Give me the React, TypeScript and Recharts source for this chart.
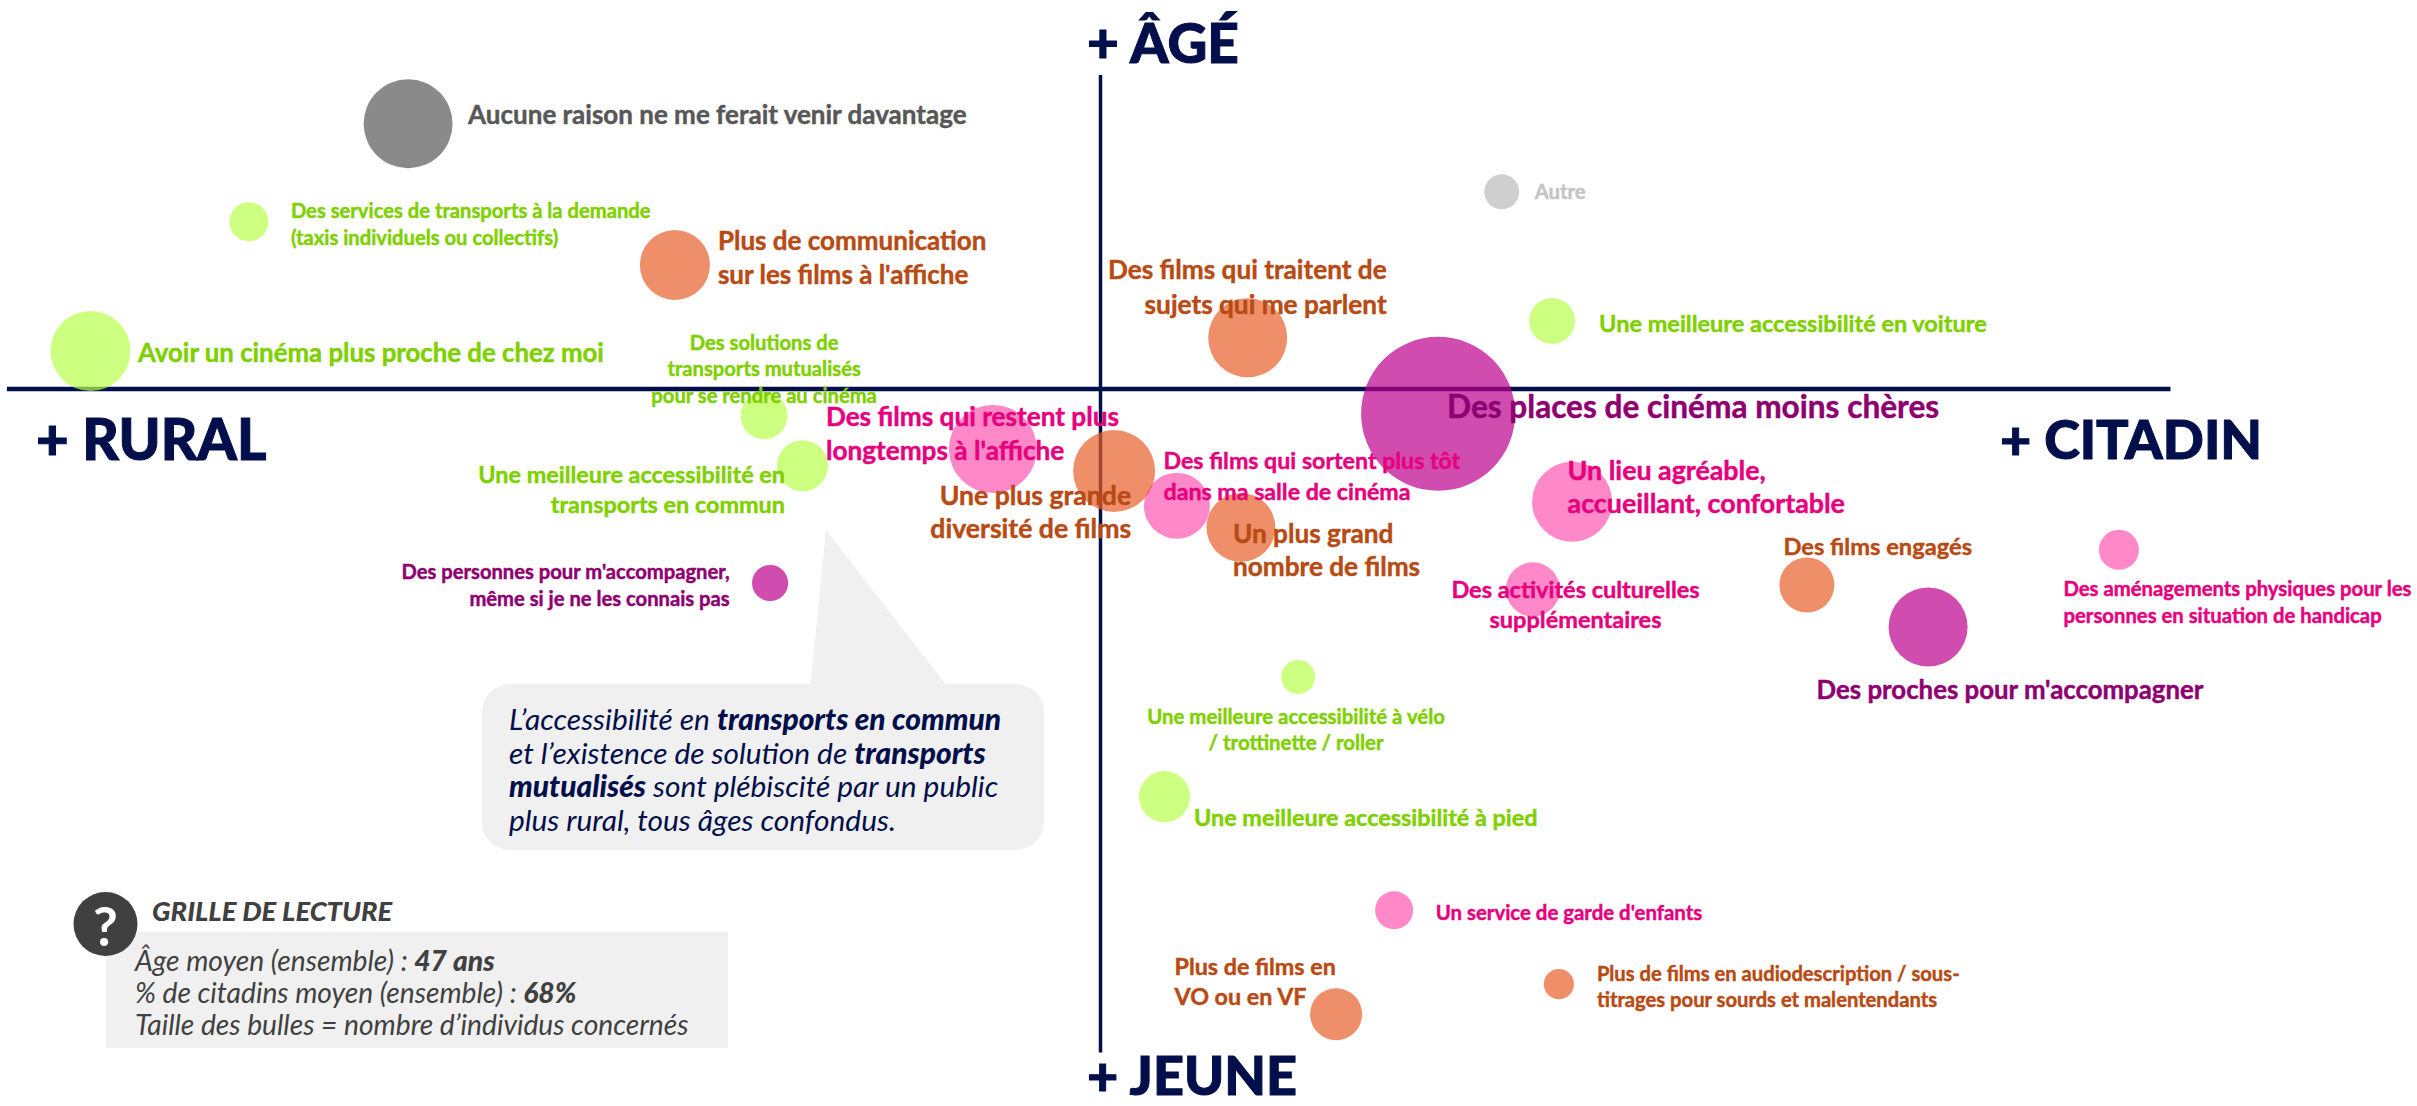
import React from "react";
import { ScatterChart, Scatter, XAxis, YAxis, ZAxis, ReferenceLine } from "recharts";

// x = % de citadins, y = âge moyen, z = part d'individus concernés (taille des bulles)
const AVG_CITADINS = 68;
const AVG_AGE = 47;

const greenItems = [
  { id: "services", x: 46.71, y: 51.18, z: 3.85, lines: ["Des services de transports à la demande", "(taxis individuels ou collectifs)"] },
  { id: "avoir", x: 42.75, y: 47.95, z: 16.2, lines: ["Avoir un cinéma plus proche de chez moi"] },
  { id: "solutions", x: 59.59, y: 46.33, z: 5.6, lines: ["Des solutions de", "transports mutualisés", "pour se rendre au cinéma"] },
  { id: "commun", x: 60.55, y: 45.08, z: 6.6, lines: ["Une meilleure accessibilité en", "transports en commun"] },
  { id: "voiture", x: 79.29, y: 48.7, z: 5.35, lines: ["Une meilleure accessibilité en voiture"] },
  { id: "velo", x: 72.94, y: 39.8, z: 2.9, lines: ["Une meilleure accessibilité à vélo", "/ trottinette / roller"] },
  { id: "pied", x: 69.6, y: 36.81, z: 6.6, lines: ["Une meilleure accessibilité à pied"] },
];
const orangeItems = [
  { id: "comm", x: 57.36, y: 50.1, z: 12.4, lines: ["Plus de communication", "sur les films à l'affiche"] },
  { id: "traitent", x: 71.68, y: 48.28, z: 15.8, lines: ["Des films qui traitent de", "sujets qui me parlent"] },
  { id: "grande", x: 68.34, y: 44.95, z: 17, lines: ["Une plus grande", "diversité de films"] },
  { id: "grand", x: 71.51, y: 43.54, z: 12, lines: ["Un plus grand", "nombre de films"] },
  { id: "engages", x: 85.66, y: 42.1, z: 7.65, lines: ["Des films engagés"] },
  { id: "audio", x: 79.46, y: 32.12, z: 2.3, lines: ["Plus de films en audiodescription / sous-", "titrages pour sourds et malentendants"] },
  { id: "vo", x: 73.89, y: 31.37, z: 6.85, lines: ["Plus de films en", "VO ou en VF"] },
];
const pinkItems = [
  { id: "restent", x: 65.31, y: 45.5, z: 19.6, lines: ["Des films qui restent plus", "longtemps à l'affiche"] },
  { id: "sortent", x: 69.91, y: 44.08, z: 11, lines: ["Des films qui sortent plus tôt", "dans ma salle de cinéma"] },
  { id: "lieu", x: 79.79, y: 44.18, z: 16.2, lines: ["Un lieu agréable,", "accueillant, confortable"] },
  { id: "amenag", x: 93.46, y: 42.98, z: 4.05, lines: ["Des aménagements physiques pour les", "personnes en situation de handicap"] },
  { id: "activites", x: 78.81, y: 41.99, z: 7.4, lines: ["Des activités culturelles", "supplémentaires"] },
  { id: "garde", x: 75.34, y: 33.97, z: 3.65, lines: ["Un service de garde d'enfants"] },
];
const purpleItems = [
  { id: "places", x: 76.44, y: 46.38, z: 60, lines: ["Des places de cinéma moins chères"] },
  { id: "proches", x: 88.69, y: 41.05, z: 15.8, lines: ["Des proches pour m'accompagner"] },
  { id: "personnes", x: 59.74, y: 42.15, z: 3.3, lines: ["Des personnes pour m'accompagner,", "même si je ne les connais pas"] },
];
const greyItems = [
  { id: "aucune", x: 50.69, y: 53.63, z: 20, lines: ["Aucune raison ne me ferait venir davantage"] },
];
const lightGreyItems = [
  { id: "autre", x: 78.03, y: 51.93, z: 3.1, lines: ["Autre"] },
];

const X_DOMAIN = [40.4875, 100.9125];
const Y_DOMAIN = [29.075, 56.725];
const Z_MAX = 60;

// Text styling and offsets (px from the bubble centre)
const T = { green: "#7FD000", orange: "#B84A14", pink: "#E6007E", purple: "#8E0070", grey: "#575757", light: "#C4C4C4" };
type Lay = { dx: number; dy: number; a: "start" | "middle" | "end"; s: number; lh?: number; c: string };
const layout: Record<string, Lay> = {
  aucune: { dx: 60, dy: -10, a: "start", s: 26, c: T.grey },
  services: { dx: 42, dy: -12, a: "start", s: 20.2, lh: 27, c: T.green },
  comm: { dx: 43, dy: -25, a: "start", s: 26, lh: 34, c: T.orange },
  avoir: { dx: 47.5, dy: 0.5, a: "start", s: 25.8, c: T.green },
  solutions: { dx: 0, dy: -74, a: "middle", s: 20.2, lh: 26.5, c: T.green },
  commun: { dx: -17.5, dy: 8, a: "end", s: 23.4, lh: 30, c: T.green },
  restent: { dx: -167, dy: -33, a: "start", s: 26.2, lh: 34, c: T.pink },
  personnes: { dx: -40.4, dy: -12, a: "end", s: 20.2, lh: 27, c: T.purple },
  autre: { dx: 33, dy: -1, a: "start", s: 20.3, c: T.light },
  traitent: { dx: 139, dy: -69, a: "end", s: 26.2, lh: 35, c: T.orange },
  voiture: { dx: 47, dy: 2, a: "start", s: 23.5, c: T.green },
  places: { dx: 9, dy: -8, a: "start", s: 31.6, c: T.purple },
  grande: { dx: 17, dy: 24, a: "end", s: 26.6, lh: 33, c: T.orange },
  sortent: { dx: -13.4, dy: -46, a: "start", s: 23.2, lh: 31.5, c: T.pink },
  grand: { dx: -8, dy: 5.5, a: "start", s: 26.2, lh: 33.5, c: T.orange },
  lieu: { dx: -4.5, dy: -32, a: "start", s: 26.8, lh: 33, c: T.pink },
  engages: { dx: -23.5, dy: -39, a: "start", s: 23.7, c: T.orange },
  amenag: { dx: -55.4, dy: 38.5, a: "start", s: 20.3, lh: 27, c: T.pink },
  activites: { dx: 42.6, dy: -0.5, a: "middle", s: 23.5, lh: 30, c: T.pink },
  proches: { dx: -111.5, dy: 62, a: "start", s: 25.8, c: T.purple },
  velo: { dx: -2, dy: 39, a: "middle", s: 20.4, lh: 26, c: T.green },
  pied: { dx: 29.5, dy: 20.5, a: "start", s: 23.4, c: T.green },
  garde: { dx: 41.6, dy: 2, a: "start", s: 20.4, c: T.pink },
  audio: { dx: 38, dy: -11, a: "start", s: 20.2, lh: 26, c: T.orange },
  vo: { dx: -161.6, dy: -48, a: "start", s: 23.3, lh: 30, c: T.orange },
};

const allItems = [...greenItems, ...orangeItems, ...pinkItems, ...purpleItems, ...greyItems, ...lightGreyItems];
const FONT = "Lato, sans-serif";
const NAVY = "#020F4A";
const INK = "#404040";

const LabelShape = (p: any) => {
  const item = p.payload;
  const l = layout[item.id];
  if (!l || p.cx == null) return null;
  return (
    <text x={p.cx + l.dx} y={p.cy + l.dy} textAnchor={l.a} fill={l.c} stroke={l.c} strokeWidth={0.45} fontFamily={FONT} fontWeight={700} fontSize={l.s} dominantBaseline="central">
      {item.lines.map((t: string, i: number) => (
        <tspan key={i} x={p.cx + l.dx} dy={i === 0 ? 0 : l.lh}>{t}</tspan>
      ))}
    </text>
  );
};

const Backdrop = () => (
  <svg width={2417} height={1106} style={{ position: "absolute", left: 0, top: 0 }} fontFamily={FONT}>
    <g fontWeight={900} fill={NAVY} stroke={NAVY} strokeWidth={1}>
      <text x={1087} y={63} fontSize={55}>+ ÂGÉ</text>
      <text x={36} y={460} fontSize={56.5}>+ RURAL</text>
      <text x={2000} y={459} fontSize={54}>+ CITADIN</text>
      <text x={1087} y={1095} fontSize={54}>+ JEUNE</text>
    </g>
    <polygon points="826,530 810,690 950,690" fill="#F0F0F0" />
    <rect x={482} y={684} width={562} height={166} rx={28} fill="#F0F0F0" />
    <g fontSize={29.9} fontStyle="italic" fill={NAVY} dominantBaseline="central">
      <text x={509} y={718}>L’accessibilité en <tspan fontWeight={900}>transports en commun</tspan></text>
      <text x={509} y={752}>et l’existence de solution de <tspan fontWeight={900}>transports</tspan></text>
      <text x={509} y={785}><tspan fontWeight={900}>mutualisés</tspan> sont plébiscité par un public</text>
      <text x={509} y={819}>plus rural, tous âges confondus.</text>
    </g>
    <rect x={106} y={932} width={622} height={116} fill="#F0F0F0" />
    <circle cx={105.5} cy={924} r={32} fill={INK} />
    <text x={105.5} y={925} textAnchor="middle" dominantBaseline="central" fontSize={54} fontWeight={700} fill="#FFFFFF">?</text>
    <text x={152} y={910} fontSize={27.4} fontWeight={900} fontStyle="italic" fill={INK} dominantBaseline="central">GRILLE DE LECTURE</text>
    <g fontSize={28.2} fontStyle="italic" fill={INK} dominantBaseline="central">
      <text x={135} y={960}>Âge moyen (ensemble) : <tspan fontWeight={900}>47 ans</tspan></text>
      <text x={135} y={992}>% de citadins moyen (ensemble) : <tspan fontWeight={900}>68%</tspan></text>
      <text x={135} y={1024}>Taille des bulles = nombre d’individus concernés</text>
    </g>
  </svg>
);

export default function App() {
  return (
    <div style={{ position: "absolute", left: 0, top: 0, width: 2417, height: 1106, background: "#fff", overflow: "hidden" }}>
      <Backdrop />
      <div style={{ position: "absolute", left: 0, top: 0 }}>
        <ScatterChart width={2417} height={1106} margin={{ top: 0, right: 0, bottom: 0, left: 0 }}>
          <XAxis type="number" dataKey="x" domain={X_DOMAIN} hide allowDataOverflow />
          <YAxis type="number" dataKey="y" domain={Y_DOMAIN} hide allowDataOverflow />
          <ZAxis type="number" dataKey="z" domain={[0, Z_MAX]} range={[0, 18627]} />
          <ReferenceLine segment={[{ x: 40.66, y: AVG_AGE }, { x: 94.75, y: AVG_AGE }]} stroke={NAVY} strokeWidth={4.5} />
          <ReferenceLine segment={[{ x: AVG_CITADINS, y: 54.85 }, { x: AVG_CITADINS, y: 30.41 }]} stroke={NAVY} strokeWidth={3.5} />
          <Scatter data={lightGreyItems} fill="#BABABA" fillOpacity={0.7} isAnimationActive={false} />
          <Scatter data={greyItems} fill="#585858" fillOpacity={0.7} isAnimationActive={false} />
          <Scatter data={pinkItems} fill="#FF55B0" fillOpacity={0.7} isAnimationActive={false} />
          <Scatter data={greenItems} fill="#B8FF4A" fillOpacity={0.7} isAnimationActive={false} />
          <Scatter data={purpleItems} fill="#BC008B" fillOpacity={0.7} isAnimationActive={false} />
          <Scatter data={orangeItems} fill="#E85F2A" fillOpacity={0.7} isAnimationActive={false} />
          <Scatter data={allItems} shape={LabelShape} isAnimationActive={false} />
        </ScatterChart>
      </div>
    </div>
  );
}
